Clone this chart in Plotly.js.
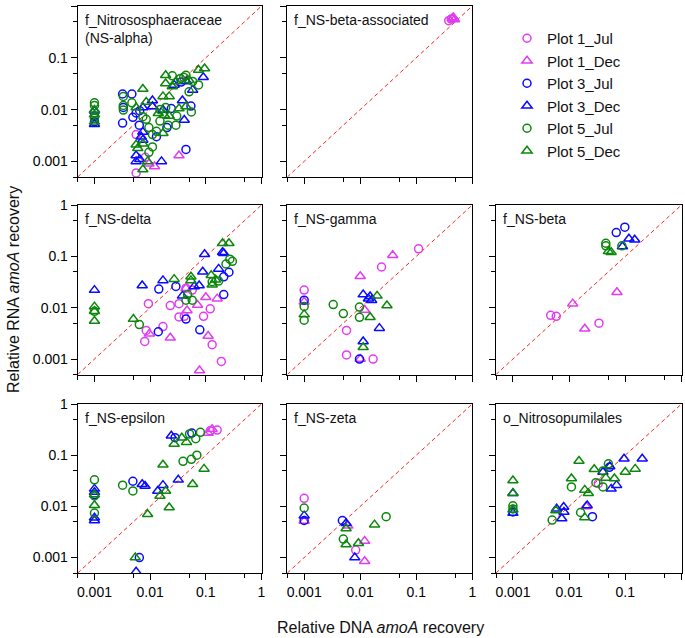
<!DOCTYPE html>
<html><head><meta charset="utf-8">
<script src="https://cdn.plot.ly/plotly-3.0.1.min.js"></script>
<style>html,body{margin:0;padding:0;background:#fff}</style>
</head><body><div id="chart" style="width:685px;height:638px"></div>
<script>
// ---- DATA ----
const seriesNames = ['Plot 1_Jul','Plot 1_Dec','Plot 3_Jul','Plot 3_Dec','Plot 5_Jul','Plot 5_Dec'];
const seriesKeys  = ['P1_Jul','P1_Dec','P3_Jul','P3_Dec','P5_Jul','P5_Dec'];
const panelTitles = ['f_Nitrososphaeraceae<br>(NS-alpha)','f_NS-beta-associated','f_NS-delta','f_NS-gamma','f_NS-beta','f_NS-epsilon','f_NS-zeta','o_Nitrosopumilales'];
const tickVals = [0.001,0.01,0.1,1];
const tickText = ['0.001','0.01','0.1','1'];
const minorVals = [0.0005,0.005,0.05,0.5];

// each panel: [DNA recovery, RNA recovery] pairs per series
const NS_alpha = {
  P1_Jul: [[0.0056,0.0033],[0.0056,0.0006],[0.0082,0.0012]],
  P1_Dec: [[0.011,0.0115],[0.033,0.0013],[0.012,0.0008],[0.0095,0.0009]],
  P3_Jul: [[0.001,0.0075],[0.001,0.0058],[0.0032,0.02],[0.0033,0.011],[0.0047,0.02],[0.0032,0.0055],[0.0049,0.0071],[0.0064,0.005],[0.0056,0.0086],[0.013,0.003],[0.024,0.0105],[0.044,0.0017],[0.054,0.0117],[0.036,0.034],[0.0065,0.0095],[0.02,0.0045]],
  P3_Dec: [[0.001,0.0095],[0.001,0.0052],[0.0056,0.0013],[0.0065,0.0011],[0.0056,0.001],[0.0074,0.0037],[0.0069,0.003],[0.0074,0.0026],[0.011,0.015],[0.011,0.0115],[0.017,0.0098],[0.016,0.001],[0.038,0.015],[0.041,0.0063],[0.058,0.024],[0.09,0.042],[0.027,0.03],[0.0074,0.011],[0.045,0.035]],
  P5_Jul: [[0.001,0.0135],[0.001,0.012],[0.001,0.0068],[0.0033,0.018],[0.0033,0.012],[0.0033,0.0098],[0.0047,0.0135],[0.0074,0.0073],[0.0085,0.0065],[0.0095,0.0045],[0.011,0.0019],[0.0095,0.0015],[0.013,0.0038],[0.019,0.011],[0.021,0.005],[0.025,0.045],[0.030,0.0075],[0.040,0.042],[0.044,0.046],[0.029,0.005],[0.058,0.035],[0.074,0.03],[0.055,0.009],[0.011,0.0033],[0.015,0.006],[0.015,0.010],[0.05,0.022],[0.035,0.04]],
  P5_Dec: [[0.001,0.0098],[0.001,0.008],[0.001,0.0058],[0.0074,0.025],[0.0056,0.011],[0.0085,0.014],[0.0056,0.0021],[0.0074,0.0022],[0.009,0.001],[0.0074,0.0007],[0.014,0.0085],[0.017,0.018],[0.017,0.0035],[0.019,0.046],[0.022,0.018],[0.025,0.028],[0.029,0.035],[0.018,0.0078],[0.033,0.0105],[0.044,0.0115],[0.019,0.032],[0.074,0.058],[0.095,0.062],[0.05,0.037],[0.022,0.0075],[0.006,0.0018]]
};
const NS_beta_assoc = {
  P1_Jul: [[0.38,0.52],[0.42,0.56]],
  P1_Dec: [[0.44,0.58],[0.48,0.55],[0.46,0.6]],
  P3_Jul: [], P3_Dec: [], P5_Jul: [], P5_Dec: []
};
const NS_delta = {
  P1_Jul: [[0.0093,0.012],[0.0085,0.0036],[0.008,0.0022],[0.017,0.0043],[0.023,0.011],[0.033,0.012],[0.033,0.0066],[0.041,0.0068],[0.057,0.022],[0.091,0.0068],[0.12,0.0095],[0.13,0.0019],[0.19,0.0009],[0.044,0.024]],
  P1_Dec: [[0.0097,0.0031],[0.023,0.0026],[0.044,0.024],[0.046,0.0088],[0.071,0.0113],[0.1,0.016],[0.11,0.0028],[0.16,0.015],[0.077,0.0006]],
  P3_Jul: [[0.0143,0.023],[0.029,0.026],[0.014,0.0034],[0.044,0.006],[0.078,0.0037],[0.21,0.018],[0.21,0.04],[0.26,0.049]],
  P3_Dec: [[0.001,0.022],[0.0072,0.027],[0.017,0.034],[0.038,0.017],[0.062,0.026],[0.076,0.027],[0.088,0.05],[0.095,0.11],[0.2,0.12],[0.21,0.115],[0.17,0.057]],
  P5_Jul: [[0.001,0.0085],[0.0064,0.0047],[0.047,0.018],[0.044,0.014],[0.057,0.014],[0.13,0.032],[0.17,0.033],[0.23,0.071],[0.27,0.088],[0.3,0.08]],
  P5_Dec: [[0.001,0.0105],[0.001,0.0085],[0.001,0.0055],[0.005,0.006],[0.027,0.036],[0.054,0.04],[0.054,0.034],[0.125,0.043],[0.13,0.028],[0.15,0.035],[0.2,0.18],[0.26,0.18]]
};
const NS_gamma = {
  P1_Jul: [[0.001,0.022],[0.11,0.14],[0.024,0.062],[0.0057,0.0036],[0.0057,0.0012],[0.017,0.001]],
  P1_Dec: [[0.038,0.105],[0.01,0.041],[0.012,0.009],[0.001,0.013],[0.01,0.001]],
  P3_Jul: [[0.001,0.014],[0.0097,0.001]],
  P3_Dec: [[0.0113,0.018],[0.015,0.0165],[0.016,0.014],[0.014,0.015],[0.022,0.004],[0.0113,0.0022]],
  P5_Jul: [[0.001,0.0106],[0.001,0.0057],[0.0033,0.0115],[0.005,0.0077],[0.0097,0.0103],[0.0097,0.0065]],
  P5_Dec: [[0.001,0.0074],[0.02,0.017],[0.03,0.011],[0.015,0.0065],[0.0113,0.0017]]
};
const NS_beta = {
  P1_Jul: [[0.0047,0.0071],[0.0059,0.0068],[0.034,0.005]],
  P1_Dec: [[0.0116,0.012],[0.019,0.0039],[0.071,0.02]],
  P3_Jul: [[0.069,0.29],[0.098,0.37]],
  P3_Dec: [[0.116,0.22],[0.147,0.21],[0.089,0.155]],
  P5_Jul: [[0.045,0.18],[0.045,0.16],[0.087,0.16]],
  P5_Dec: [[0.05,0.125],[0.056,0.12]]
};
const NS_epsilon = {
  P1_Jul: [[0.16,0.31],[0.12,0.3]],
  P1_Dec: [[0.11,0.27],[0.13,0.32]],
  P3_Jul: [[0.001,0.017],[0.0049,0.031],[0.0064,0.001],[0.056,0.27],[0.028,0.22]],
  P3_Dec: [[0.001,0.022],[0.001,0.019],[0.001,0.006],[0.001,0.0053],[0.0072,0.027],[0.0081,0.025],[0.0137,0.02],[0.017,0.026],[0.024,0.24],[0.032,0.033],[0.0056,0.00053]],
  P5_Jul: [[0.001,0.033],[0.001,0.016],[0.001,0.0074],[0.0032,0.026],[0.0049,0.02],[0.039,0.076],[0.055,0.083],[0.069,0.1],[0.051,0.26],[0.066,0.21],[0.08,0.28]],
  P5_Dec: [[0.001,0.017],[0.001,0.0105],[0.0054,0.001],[0.009,0.007],[0.015,0.016],[0.017,0.065],[0.019,0.02],[0.022,0.0095],[0.027,0.165],[0.037,0.22],[0.045,0.18],[0.058,0.027],[0.093,0.054]]
};
const NS_zeta = {
  P1_Jul: [[0.001,0.0144],[0.0083,0.0014]],
  P1_Dec: [[0.001,0.0052],[0.012,0.0021],[0.012,0.00085],[0.006,0.0042]],
  P3_Jul: [[0.001,0.0053],[0.0048,0.0053]],
  P3_Dec: [[0.001,0.0066],[0.0056,0.0047],[0.008,0.001]],
  P5_Jul: [[0.001,0.0093],[0.005,0.0023],[0.029,0.0063]],
  P5_Dec: [[0.0056,0.0037],[0.0056,0.0018],[0.0093,0.0019],[0.018,0.0044]]
};
const Nitrosopumilales = {
  P1_Jul: [[0.033,0.028]],
  P1_Dec: [[0.02,0.01]],
  P3_Jul: [[0.001,0.0078],[0.026,0.0063],[0.052,0.058]],
  P3_Dec: [[0.001,0.018],[0.001,0.0074],[0.006,0.009],[0.008,0.0097],[0.0074,0.0058],[0.0081,0.0078],[0.021,0.0104],[0.056,0.022],[0.07,0.026],[0.095,0.085],[0.2,0.085],[0.053,0.06],[0.04,0.047]],
  P5_Jul: [[0.001,0.0103],[0.001,0.0089],[0.011,0.024],[0.005,0.0054],[0.016,0.0076],[0.03,0.029],[0.04,0.049],[0.05,0.068],[0.04,0.024]],
  P5_Dec: [[0.001,0.032],[0.001,0.018],[0.001,0.0086],[0.015,0.077],[0.028,0.053],[0.011,0.035],[0.019,0.021],[0.022,0.018],[0.0058,0.0083],[0.019,0.0061],[0.045,0.036],[0.064,0.035],[0.1,0.047],[0.15,0.054]]
};
const panelData = [NS_alpha, NS_beta_assoc, NS_delta, NS_gamma, NS_beta, NS_epsilon, NS_zeta, Nitrosopumilales];

// ---- STYLE / LAYOUT ----
const W = 685, H = 638;
const colors = ['#e23cf2','#e23cf2','#0a0aff','#0a0aff','#0b870b','#0b870b'];
const symbols = ['circle-open','triangle-up-open','circle-open','triangle-up-open','circle-open','triangle-up-open'];
const colX = [[77.7,261.5],[287.3,472.3],[496,681.5]];
const rowY = [[6,177],[205,374.5],[404,573]];
const cells = [[0,0],[1,0],[0,1],[1,1],[2,1],[0,2],[1,2],[2,2]];
const FONT = 'Arial, "Liberation Sans", sans-serif';

const traces = [];
const layout = {
  width: W, height: H, margin: {l:0,r:0,t:0,b:0},
  paper_bgcolor: '#fff', plot_bgcolor: '#fff',
  font: {family: FONT, size: 14, color: '#000'},
  showlegend: true,
  legend: {x: 507/W, xanchor: 'left', y: 1-22/H, yanchor: 'top',
           font: {family: FONT, size: 15, color: '#111'}, bgcolor: 'rgba(0,0,0,0)',
           borderwidth: 0, tracegroupgap: 0, itemclick: false},
  annotations: []
};
const lr = [Math.log10(0.0005), 0];

cells.forEach(([c, r], i) => {
  const n = i + 1;
  const xa = 'x' + (n === 1 ? '' : n), ya = 'y' + (n === 1 ? '' : n);
  const axBase = {
    type: 'log', range: lr, showgrid: false, zeroline: false,
    showline: true, mirror: true, linecolor: '#000', linewidth: 1,
    ticks: 'outside', ticklen: 6, tickwidth: 1, tickcolor: '#000',
    tickmode: 'array', tickvals: tickVals, ticktext: tickText,
    tickfont: {family: FONT, size: 14, color: '#000'},
    minor: {tickmode: 'array', tickvals: minorVals, ticks: 'outside', ticklen: 4, tickwidth: 1, tickcolor: '#000', showgrid: false},
    fixedrange: true
  };
  layout['xaxis' + (n === 1 ? '' : n)] = Object.assign({}, axBase, {
    domain: [colX[c][0]/W, colX[c][1]/W], anchor: ya, showticklabels: r === 2
  });
  layout['yaxis' + (n === 1 ? '' : n)] = Object.assign({}, axBase, {
    domain: [1 - rowY[r][1]/H, 1 - rowY[r][0]/H], anchor: xa, showticklabels: c === 0
  });
  // 1:1 line
  traces.push({x: [0.0005, 1], y: [0.0005, 1], xaxis: xa, yaxis: ya, mode: 'lines',
    line: {color: '#ff2020', width: 1, dash: '4px,3px'}, showlegend: false, hoverinfo: 'skip'});
  const d = panelData[i];
  seriesKeys.forEach((k, s) => {
    const pts = d[k];
    traces.push({
      x: pts.map(p => p[0]), y: pts.map(p => p[1]), xaxis: xa, yaxis: ya,
      mode: 'markers', type: 'scatter', name: seriesNames[s], legendgroup: seriesNames[s],
      showlegend: i === 0,
      marker: {symbol: symbols[s], size: s % 2 ? 9 : 8, color: colors[s], line: {color: colors[s], width: 1.5}}
    });
  });
  layout.annotations.push({
    xref: 'paper', yref: 'paper', x: (colX[c][0] + 5)/W, y: 1 - (rowY[r][0] + 4)/H,
    xanchor: 'left', yanchor: 'top', align: 'left', showarrow: false,
    text: panelTitles[i], font: {family: FONT, size: 14, color: '#111'}
  });
});

layout.annotations.push({
  xref: 'paper', yref: 'paper', x: 13/W, y: 1 - 290/H, textangle: -90,
  xanchor: 'center', yanchor: 'middle', showarrow: false,
  text: 'Relative RNA <i>amoA</i> recovery', font: {family: FONT, size: 16, color: '#111'}
});
layout.annotations.push({
  xref: 'paper', yref: 'paper', x: 380/W, y: 1 - 627/H,
  xanchor: 'center', yanchor: 'middle', showarrow: false,
  text: 'Relative DNA <i>amoA</i> recovery', font: {family: FONT, size: 16, color: '#111'}
});

Plotly.newPlot('chart', traces, layout, {staticPlot: true, displayModeBar: false});
</script></body></html>
